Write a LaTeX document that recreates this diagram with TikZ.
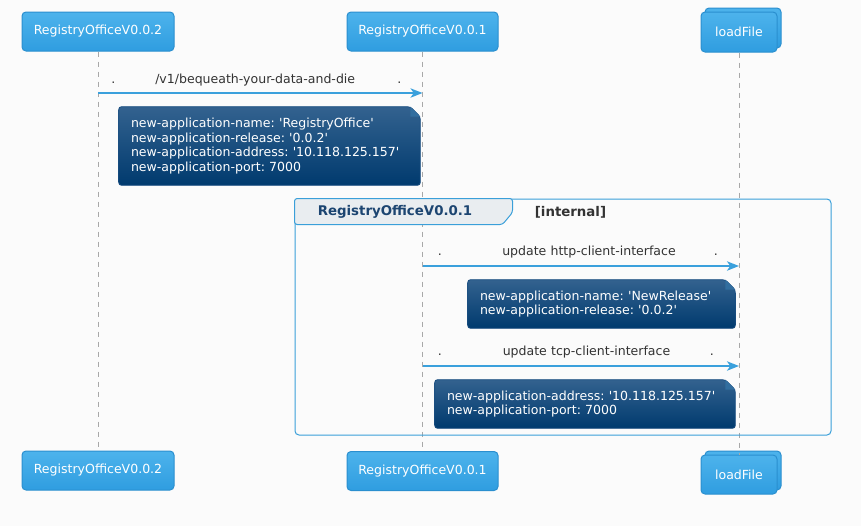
\documentclass[tikz,border=0pt]{standalone}
\usepackage{fontspec}
\setmainfont{DejaVu Sans}[Ligatures=TeXOff]
\usetikzlibrary{arrows.meta,shadows}
\definecolor{partTop}{HTML}{4DB3EC}
\definecolor{partBot}{HTML}{2F9DE0}
\definecolor{partLine}{HTML}{2A8FCF}
\definecolor{msgLine}{HTML}{3AA0DC}
\definecolor{noteTop}{HTML}{33628F}
\definecolor{noteBot}{HTML}{003A6E}
\definecolor{noteLine}{HTML}{1B4F82}
\definecolor{groupLine}{HTML}{3A9FD9}
\definecolor{tabFill}{HTML}{E9EDF0}
\definecolor{titleBlue}{HTML}{1C4571}
\definecolor{labelGray}{HTML}{333333}
\definecolor{lifeGray}{HTML}{A8A8A8}
\definecolor{pageBg}{HTML}{FBFBFB}
\pgfdeclarelayer{paper}
\pgfdeclarelayer{shade}
\pgfsetlayers{paper,shade,main}
\frenchspacing
\begin{document}
\begin{tikzpicture}[x=0.75pt, y=-0.75pt, font=\fontsize{9.4}{11}\selectfont,
  part/.style={rectangle, rounded corners=3pt, draw=partLine, line width=0.75pt, top color=partTop, bottom color=partBot, text=white, minimum height=29.25pt, inner sep=0pt},
  stack/.style={part, general shadow={shadow xshift=3pt, shadow yshift=3pt, top color=partTop, bottom color=partBot, draw=partLine, line width=0.75pt, rounded corners=3pt}},
  lifeline/.style={draw=lifeGray, line width=0.6pt, dash pattern=on 3.75pt off 3.75pt},
  msg/.style={draw=msgLine, line width=1.5pt, -{Stealth[length=9pt, width=7pt, inset=2.5pt]}},
  msglabel/.style={text=labelGray, inner sep=0pt, align=left, anchor=west},
  note/.style={rectangle, text=white, align=left, inner xsep=9pt, inner ysep=0pt},
  groupbox/.style={rectangle, draw=groupLine, line width=0.75pt, rounded corners=3pt, inner sep=0pt},
  tab/.style={fill=tabFill, draw=groupLine, line width=0.75pt, rounded corners=2pt},
  grouptitle/.style={text=titleBlue, font=\fontsize{10}{12}\selectfont\bfseries},
  groupkind/.style={text=labelGray, font=\fontsize{10}{12}\selectfont\bfseries}]
\useasboundingbox (0,0) rectangle (861,526);
\begin{pgfonlayer}{paper}
  \fill[pageBg] (0,0) rectangle (861,526);
\end{pgfonlayer}

% participants
\node[part, minimum width=114pt] (p2top) at (98,31.5) {RegistryOfficeV0.0.2};
\node[part, minimum width=113.25pt] (p1top) at (422.5,31.5) {RegistryOfficeV0.0.1};
\node[stack, minimum width=57pt, minimum height=30pt] (lfTop) at (739,32) {loadFile};
\node[part, minimum width=114pt] (p2bot) at (98,470.5) {RegistryOfficeV0.0.2};
\node[part, minimum width=113.25pt] (p1bot) at (422.5,471) {RegistryOfficeV0.0.1};
\node[stack, minimum width=57pt, minimum height=29.25pt] (lfBot) at (739,474.5) {loadFile};

% lifelines
\draw[lifeline] (p2top) -- (p2bot);
\draw[lifeline] (p1top) -- (p1bot);
\draw[lifeline] (lfTop) -- (lfBot);

% group
\node[groupbox, minimum width=402pt, minimum height=177pt] (grp) at (563,317) {};
\filldraw[tab] (grp.north west) -- ++(218,0) -- ++(0,14) -- ++(-10,12) -- ++(-208,0) -- cycle;
\node[grouptitle] (gname) at (395,212) {RegistryOfficeV0.0.1};
\node[groupkind] (gkind) at (570.5,212) {[internal]};

% messages
\coordinate (m1a) at (p2top |- 0,93);
\coordinate (m1b) at (p1top |- 0,93);
\draw[msg] (m1a) -- (m1b);
\node[msglabel, text width=217.5pt] (l1) at (111,80) {.\hspace{30pt}/v1/bequeath-your-data-and-die\hfill.};

\coordinate (m2a) at (p1top |- 0,266);
\coordinate (m2b) at (lfTop |- 0,266);
\draw[msg] (m2a) -- (m2b);
\node[msglabel, text width=210pt] (l2) at (437.5,252) {.\hspace{45.4pt}update http-client-interface\hfill.};

\coordinate (m3a) at (p1top |- 0,366);
\coordinate (m3b) at (lfTop |- 0,366);
\draw[msg] (m3a) -- (m3b);
\node[msglabel, text width=207pt] (l3) at (437.5,352) {.\hspace{45.75pt}update tcp-client-interface\hfill.};

% notes
\node[note, text width=207.75pt, minimum height=58.5pt] (n1) at (269.5,146) {new-application-name: 'RegistryOffice'\\new-application-release: '0.0.2'\\new-application-address: '10.118.125.157'\\new-application-port: 7000};
\node[note, text width=182.25pt, minimum height=36pt] (n2) at (601.5,304) {new-application-name: 'NewRelease'\\new-application-release: '0.0.2'};
\node[note, text width=207pt, minimum height=36pt] (n3) at (585,404) {new-application-address: '10.118.125.157'\\new-application-port: 7000};
\begin{pgfonlayer}{shade}
\foreach \n in {n1,n2,n3} {
  \shade[top color=noteTop, bottom color=noteBot, draw=noteLine, line width=0.6pt, rounded corners=2pt]
    (\n.south west) -- (\n.north west) -- ([xshift=-7.5pt]\n.north east) -- ([yshift=-7.5pt]\n.north east) -- (\n.south east) -- cycle;
  \fill[noteTop!80!partBot] ([xshift=-7.5pt]\n.north east) -- ([xshift=-7.5pt,yshift=-7.5pt]\n.north east) -- ([yshift=-7.5pt]\n.north east) -- cycle;
}
\end{pgfonlayer}
\end{tikzpicture}
\end{document}
